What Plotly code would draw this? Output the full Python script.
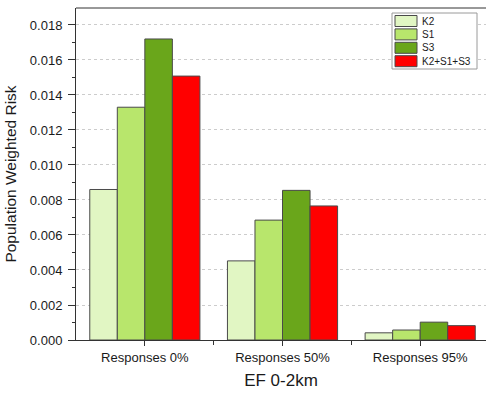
import plotly.graph_objects as go

# Scenario groups along the x axis
categories = ["Responses 0%", "Responses 50%", "Responses 95%"]

# Population weighted risk per source scenario
series_names = ["K2", "S1", "S3", "K2+S1+S3"]
k2 = [0.00860, 0.00452, 0.00041]
s1 = [0.01330, 0.00685, 0.00057]
s3 = [0.01720, 0.00855, 0.00102]
combined = [0.01508, 0.00766, 0.00082]
series_values = [k2, s1, s3, combined]
series_colors = ["#e1f6c3", "#b8e66c", "#6aa61b", "#ff0000"]

x_pos = list(range(len(categories)))
font = "Liberation Sans, Arial, sans-serif"

W, H = 486, 394
ML, MR, MT, MB = 76, 0, 8, 54

fig = go.Figure()
for name, vals, col in zip(series_names, series_values, series_colors):
    fig.add_trace(go.Bar(
        x=x_pos, y=vals, name=name, showlegend=False,
        marker=dict(color=col, line=dict(color="#4a4a4a", width=1)),
    ))

fig.update_layout(
    width=W, height=H,
    margin=dict(l=ML, r=MR, t=MT, b=MB),
    paper_bgcolor="white", plot_bgcolor="white",
    barmode="group", bargap=0.2, bargroupgap=0,
    font=dict(family=font, size=13, color="#1a1a1a"),
)

fig.update_xaxes(
    range=[-0.5, 2.478],
    tickmode="array", tickvals=x_pos, ticktext=categories,
    ticks="outside", ticklen=5, tickwidth=1, tickcolor="#333",
    minor=dict(tickmode="array", tickvals=[0.5, 1.5], ticks="outside",
               ticklen=4, tickcolor="#333", showgrid=False),
    showline=True, linecolor="#333", linewidth=1, mirror=False,
    showgrid=False, zeroline=False,
    title=dict(text="EF 0-2km", font=dict(size=17), standoff=10),
)

fig.update_yaxes(
    range=[0, 0.01897],
    tick0=0, dtick=0.002, tickformat=".3f",
    ticks="outside", ticklen=7, tickwidth=1, tickcolor="#333",
    ticklabelstandoff=3,
    minor=dict(dtick=0.001, ticks="outside", ticklen=3, tickcolor="#333",
               showgrid=False),
    showline=True, linecolor="#333", linewidth=1, mirror=False,
    showgrid=True, gridcolor="#cccccc", griddash="dot", gridwidth=1,
    zeroline=False,
    title=dict(text="Population Weighted Risk", font=dict(size=15.5), standoff=9),
)

plot_w, plot_h = W - ML - MR, H - MT - MB
def px_x(px):
    return (px - ML) / plot_w
def px_y(py):
    return (H - MB - py) / plot_h

# top frame line
fig.add_shape(type="line", xref="paper", yref="paper",
              x0=0, x1=1, y0=1, y1=1, line=dict(color="#333", width=1))

# legend box in the upper right corner
fig.add_shape(type="rect", xref="paper", yref="paper",
              x0=px_x(392), x1=px_x(477), y0=px_y(69), y1=px_y(13),
              line=dict(color="#9a9a9a", width=1), fillcolor="white")
for i, (name, col) in enumerate(zip(series_names, series_colors)):
    cy = 21 + i * 13.4
    fig.add_shape(type="rect", xref="paper", yref="paper",
                  x0=px_x(395), x1=px_x(417), y0=px_y(cy + 5.5), y1=px_y(cy - 5.5),
                  line=dict(color="#4a4a4a", width=1), fillcolor=col)
    fig.add_annotation(xref="paper", yref="paper", x=px_x(420), y=px_y(cy),
                       text=name, showarrow=False, xanchor="left", yanchor="middle",
                       font=dict(size=10, color="#1a1a1a"))

fig.write_html("out.html")
